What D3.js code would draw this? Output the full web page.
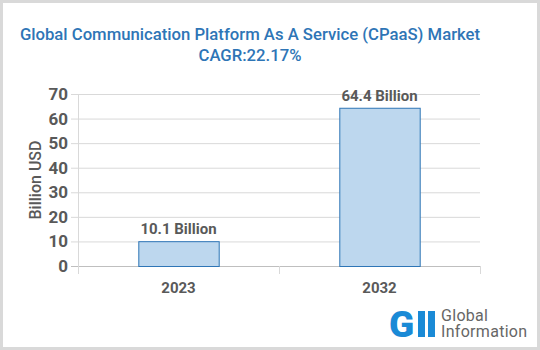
<!DOCTYPE html>
<html>
<head>
<meta charset="utf-8">
<title>CPaaS Market</title>
<script src="https://cdn.jsdelivr.net/npm/d3@7"></script>
<style>
    body { margin: 0; background: #fff; }
    svg { display: block; font-family: Roboto, "Liberation Sans", sans-serif; }
</style>
</head>
<body>
<svg id="chart" width="540" height="350"></svg>
<script>
    // data
    const years = ["2023", "2032"];
    const values = [10.1, 64.4];
    const valueLabels = ["10.1 Billion", "64.4 Billion"];
    const yTicks = [0, 10, 20, 30, 40, 50, 60, 70];

    const svg = d3.select("#chart");
    const margin = {left: 78, right: 60, top: 94, bottom: 84};
    const W = 540, H = 350;

    // frame
    svg.append("rect")
        .attr("x", 1.5).attr("y", 1.5)
        .attr("width", W - 3).attr("height", H - 3)
        .attr("fill", "#fff")
        .attr("stroke", "#d9d9d9")
        .attr("stroke-width", 3);

    // title
    const title = svg.append("text")
        .attr("text-anchor", "middle")
        .attr("fill", "#2e75b6")
        .style("font-size", "16.7px")
        .style("font-weight", "500");
    title.append("tspan").attr("x", 250).attr("y", 40)
        .text("Global Communication Platform As A Service (CPaaS) Market");
    title.append("tspan").attr("x", 250).attr("y", 61)
        .text("CAGR:22.17%");

    const x = d3.scaleBand()
        .domain(years)
        .range([margin.left, W - margin.right])
        .paddingInner(0.6)
        .paddingOuter(0.3);

    const y = d3.scaleLinear()
        .domain([0, 70])
        .range([H - margin.bottom, margin.top]);

    // gridlines
    svg.append("g")
        .selectAll("line")
        .data(yTicks)
        .join("line")
        .attr("x1", margin.left - 7)
        .attr("x2", W - margin.right)
        .attr("y1", d => y(d) + 0.5)
        .attr("y2", d => y(d) + 0.5)
        .attr("stroke", d => d === 0 ? "#bfbfbf" : "#d9d9d9")
        .attr("stroke-width", 1);

    // vertical category separators
    const sepX = [margin.left, (x("2023") + x.bandwidth() + x("2032")) / 2, W - margin.right];
    svg.append("g")
        .selectAll("line")
        .data(sepX)
        .join("line")
        .attr("x1", d => Math.round(d) + 0.5)
        .attr("x2", d => Math.round(d) + 0.5)
        .attr("y1", (d, i) => i === 0 ? margin.top : y(0))
        .attr("y2", y(0) + 8)
        .attr("stroke", "#d9d9d9");

    // bars
    svg.append("g")
        .selectAll("rect")
        .data(values)
        .join("rect")
        .attr("x", (d, i) => x(years[i]) + 0.5)
        .attr("y", d => y(d) + 0.5)
        .attr("width", x.bandwidth())
        .attr("height", d => y(0) - y(d))
        .attr("fill", "#bdd7ee")
        .attr("stroke", "#2e75b6")
        .attr("stroke-width", 1);

    // value labels
    svg.append("g")
        .selectAll("text")
        .data(values)
        .join("text")
        .attr("x", (d, i) => x(years[i]) + x.bandwidth() / 2)
        .attr("y", d => y(d) - 7)
        .attr("text-anchor", "middle")
        .attr("fill", "#595959")
        .style("font-size", "15px")
        .style("font-weight", "bold")
        .text((d, i) => valueLabels[i]);

    // y tick labels
    svg.append("g")
        .selectAll("text")
        .data(yTicks)
        .join("text")
        .attr("x", 68)
        .attr("y", d => y(d) + 6)
        .attr("text-anchor", "end")
        .attr("fill", "#595959")
        .style("font-size", "17px")
        .style("font-weight", "bold")
        .text(d => d);

    // x tick labels
    svg.append("g")
        .selectAll("text")
        .data(years)
        .join("text")
        .attr("x", d => x(d) + x.bandwidth() / 2)
        .attr("y", 293)
        .attr("text-anchor", "middle")
        .attr("fill", "#595959")
        .style("font-size", "15px")
        .style("font-weight", "bold")
        .text(d => d);

    // y axis title
    svg.append("text")
        .attr("transform", `translate(41, ${(y(0) + y(70)) / 2}) rotate(-90)`)
        .attr("text-anchor", "middle")
        .attr("fill", "#595959")
        .style("font-size", "16px")
        .style("font-weight", "500")
        .text("Billion USD");

    // logo
    const logo = svg.append("g").attr("transform", "translate(389, 337)");
    logo.append("text")
        .attr("x", 0).attr("y", 0)
        .attr("fill", "#1a8ad6")
        .style("font-size", "37px")
        .style("font-weight", "900")
        .text("G");
    logo.append("rect").attr("x", 29).attr("y", -26).attr("width", 7).attr("height", 26).attr("fill", "#1a8ad6");
    logo.append("rect").attr("x", 39).attr("y", -26).attr("width", 7).attr("height", 26).attr("fill", "#1a8ad6");
    logo.append("text")
        .attr("x", 52).attr("y", -16)
        .attr("fill", "#666")
        .style("font-size", "16px")
        .style("letter-spacing", "0.3px")
        .text("Global");
    logo.append("text")
        .attr("x", 52).attr("y", 0)
        .attr("fill", "#666")
        .style("font-size", "16px")
        .style("letter-spacing", "0.3px")
        .text("Information");
</script>
</body>
</html>
